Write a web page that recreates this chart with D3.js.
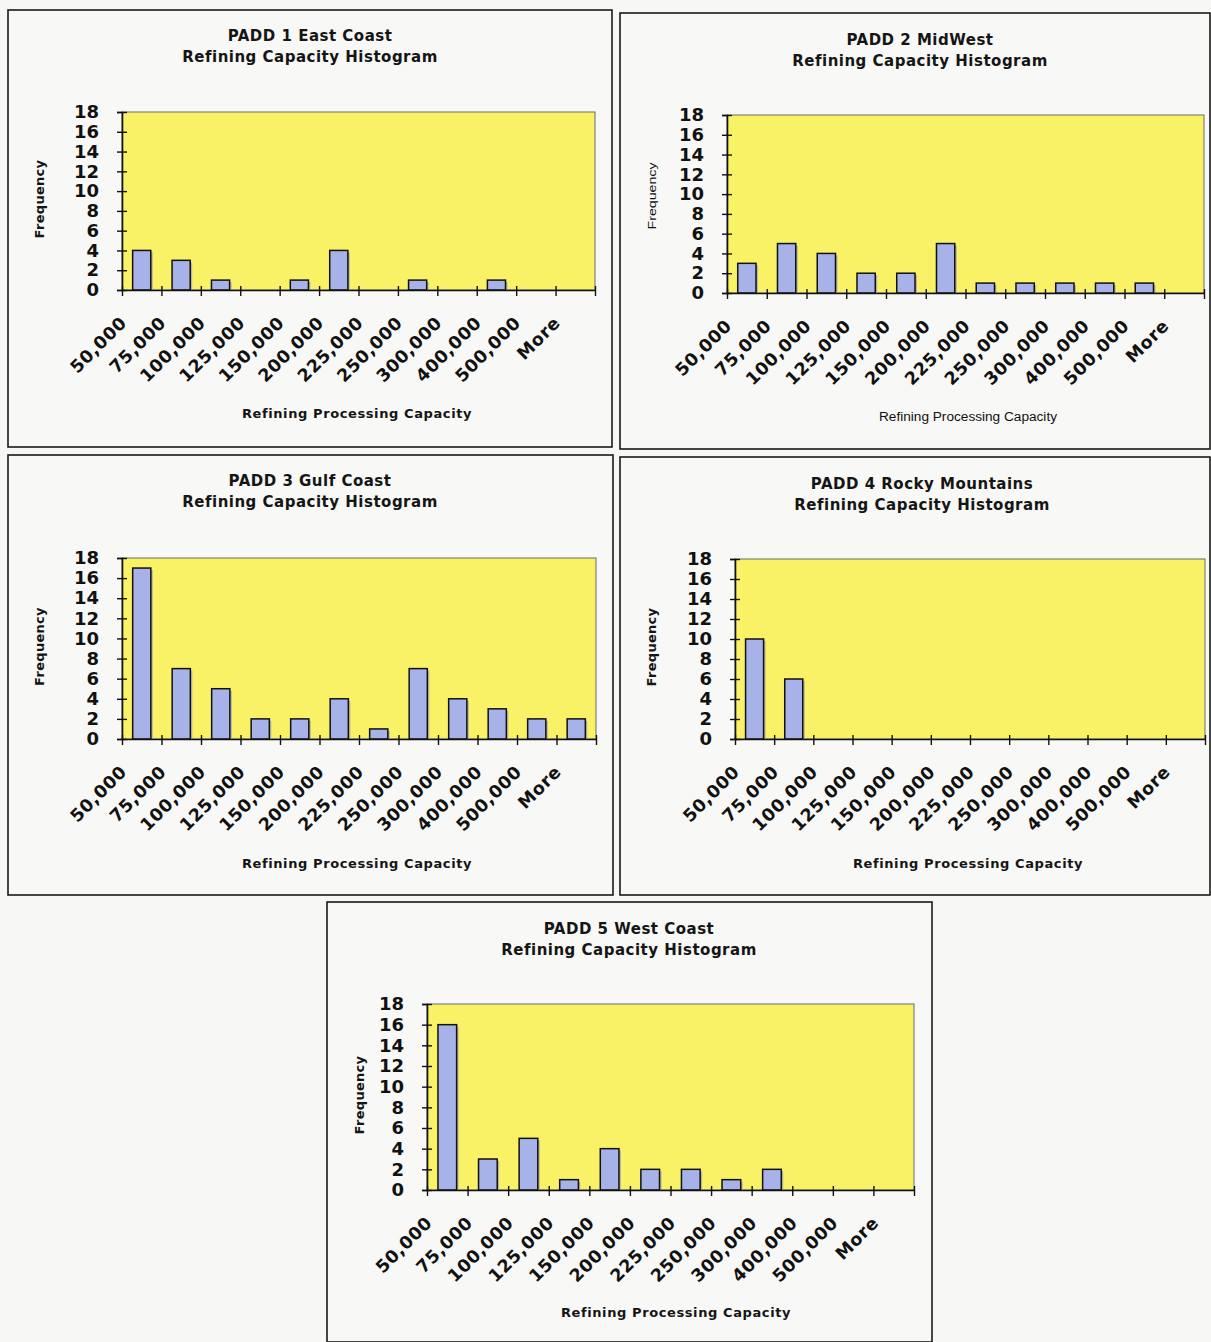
<!DOCTYPE html>
<html>
<head>
<meta charset="utf-8">
<script src="https://cdn.jsdelivr.net/npm/d3@7"></script>
<style>
  body { margin: 0; background: #f7f7f5; }
  svg { display: block; }
</style>
</head>
<body>
<svg id="chart" width="1211" height="1342"></svg>
<script>
// bins used by every histogram
var categories = ["50,000", "75,000", "100,000", "125,000", "150,000", "200,000",
                  "225,000", "250,000", "300,000", "400,000", "500,000", "More"];
var yTicks = [0, 2, 4, 6, 8, 10, 12, 14, 16, 18];

// frequency per bin
var padd1 = [4, 3, 1, 0, 1, 4, 0, 1, 0, 1, 0, 0];
var padd2 = [3, 5, 4, 2, 2, 5, 1, 1, 1, 1, 1, 0];
var padd3 = [17, 7, 5, 2, 2, 4, 1, 7, 4, 3, 2, 2];
var padd4 = [10, 6, 0, 0, 0, 0, 0, 0, 0, 0, 0, 0];
var padd5 = [16, 3, 5, 1, 4, 2, 2, 1, 2, 0, 0, 0];

var titles = ["PADD 1 East Coast", "PADD 2 MidWest", "PADD 3 Gulf Coast",
              "PADD 4 Rocky Mountains", "PADD 5 West Coast"];
var subTitle = "Refining Capacity Histogram";
var xTitle = "Refining Processing Capacity";
var yTitle = "Frequency";

// where each panel sits on the page (box, plot area, text spots)
var layout = [
  { data: padd1, box: [8, 10, 612, 447],   plot: [122, 112, 595, 290],  tx: 310, ty: 41,  xt: [357, 418],  fy: 44,  small: false },
  { data: padd2, box: [620, 13, 1210, 449], plot: [727, 115, 1204, 293], tx: 920, ty: 45,  xt: [968, 421],  fy: 656, small: true },
  { data: padd3, box: [8, 455, 613, 895],  plot: [122, 558, 596, 739],  tx: 310, ty: 486, xt: [357, 868],  fy: 44,  small: false },
  { data: padd4, box: [620, 457, 1210, 895], plot: [735, 559, 1205, 739], tx: 922, ty: 489, xt: [968, 868], fy: 656, small: false },
  { data: padd5, box: [327, 902, 932, 1342], plot: [427, 1004, 914, 1190], tx: 629, ty: 934, xt: [676, 1317], fy: 364, small: false }
];

var svg = d3.select("#chart");
var FONT = "'DejaVu Sans', Verdana, sans-serif";

layout.forEach(function(p, k) {
  var g = svg.append("g");
  var x0 = p.plot[0], y0 = p.plot[1], x1 = p.plot[2], y1 = p.plot[3];

  // panel frame
  g.append("rect")
    .attr("x", p.box[0]).attr("y", p.box[1])
    .attr("width", p.box[2] - p.box[0]).attr("height", p.box[3] - p.box[1])
    .attr("fill", "#f8f8f6").attr("stroke", "#1a1a1a").attr("stroke-width", 1.6);

  // titles
  var t = g.append("text").attr("x", p.tx).attr("y", p.ty)
    .attr("text-anchor", "middle").attr("font-family", FONT)
    .attr("font-weight", "bold").attr("font-size", 15)
    .attr("letter-spacing", 0.5).attr("fill", "#151515");
  t.append("tspan").attr("x", p.tx).text(titles[k]);
  t.append("tspan").attr("x", p.tx).attr("dy", 21).text(subTitle);

  var y = d3.scaleLinear().domain([0, 18]).range([y1, y0]);
  var xb = d3.scaleBand().domain(categories).range([x0, x1]).paddingInner(0.54).paddingOuter(0.27);
  var xe = d3.scaleLinear().domain([0, categories.length]).range([x0, x1]);

  // plot area
  g.append("rect").attr("x", x0).attr("y", y0)
    .attr("width", x1 - x0).attr("height", y1 - y0)
    .attr("fill", "#f9f266").attr("stroke", "#6a6a6a").attr("stroke-width", 1);

  // bars with the faint shadow on their right
  var bars = g.append("g");
  var rows = categories.map(function(c, i) { return { cat: c, v: p.data[i] }; })
    .filter(function(d) { return d.v > 0; });
  bars.selectAll("rect.sh").data(rows).join("rect").attr("class", "sh")
    .attr("x", function(d) { return xb(d.cat) + 2; })
    .attr("y", function(d) { return y(d.v) + 2; })
    .attr("width", xb.bandwidth())
    .attr("height", function(d) { return y1 - y(d.v) - 2; })
    .attr("fill", "#b9b7a0");
  bars.selectAll("rect.bar").data(rows).join("rect").attr("class", "bar")
    .attr("x", function(d) { return xb(d.cat); })
    .attr("y", function(d) { return y(d.v); })
    .attr("width", xb.bandwidth())
    .attr("height", function(d) { return y1 - y(d.v); })
    .attr("fill", "#a7b2e8").attr("stroke", "#111").attr("stroke-width", 1.5);

  // y axis, ticks crossing the line
  var ya = g.append("g").attr("transform", "translate(" + x0 + ",0)")
    .call(d3.axisLeft(y).tickValues(yTicks).tickSize(5).tickPadding(18));
  ya.select(".domain").attr("stroke", "#111").attr("stroke-width", 1.6);
  ya.selectAll(".tick line").attr("x1", -5).attr("x2", 5).attr("stroke", "#111").attr("stroke-width", 1.4);
  ya.selectAll(".tick text").attr("font-family", FONT).attr("font-weight", "bold")
    .attr("font-size", 18).attr("fill", "#111");

  // x axis, ticks at bin edges
  var xa = g.append("g").attr("transform", "translate(0," + y1 + ")")
    .call(d3.axisBottom(xe).tickValues(d3.range(categories.length + 1)).tickFormat("").tickSizeOuter(0));
  xa.select(".domain").attr("stroke", "#111").attr("stroke-width", 1.6);
  xa.selectAll(".tick line").attr("y1", -4).attr("y2", 6).attr("stroke", "#111").attr("stroke-width", 1.4);

  // rotated category labels
  g.append("g").selectAll("text").data(categories).join("text")
    .attr("transform", function(d) {
      return "translate(" + (xb(d) + xb.bandwidth() / 2 - 14) + "," + (y1 + 34) + ") rotate(-45)";
    })
    .attr("text-anchor", "end").attr("font-family", FONT).attr("font-weight", "bold")
    .attr("font-size", 17.5).attr("letter-spacing", 0.6).attr("fill", "#111")
    .text(function(d) { return d; });

  // axis titles
  var cy = (y0 + y1) / 2;
  if (p.small) {
    g.append("text").attr("x", p.xt[0]).attr("y", p.xt[1]).attr("text-anchor", "middle")
      .attr("font-family", "'Liberation Sans Narrow', 'Liberation Sans', sans-serif")
      .attr("font-size", 12).attr("textLength", 178).attr("lengthAdjust", "spacingAndGlyphs")
      .attr("fill", "#111").text(xTitle);
    g.append("text").attr("transform", "translate(" + p.fy + "," + (cy - 8) + ") rotate(-90)")
      .attr("text-anchor", "middle")
      .attr("font-family", "'Liberation Sans Narrow', 'Liberation Sans', sans-serif")
      .attr("font-size", 11).attr("textLength", 67).attr("lengthAdjust", "spacingAndGlyphs")
      .attr("fill", "#111").text(yTitle);
  } else {
    g.append("text").attr("x", p.xt[0]).attr("y", p.xt[1]).attr("text-anchor", "middle")
      .attr("font-family", FONT).attr("font-weight", "bold").attr("font-size", 13)
      .attr("letter-spacing", 0.6).attr("fill", "#151515").text(xTitle);
    g.append("text").attr("transform", "translate(" + p.fy + "," + (cy - 2) + ") rotate(-90)")
      .attr("text-anchor", "middle").attr("font-family", FONT).attr("font-weight", "bold")
      .attr("font-size", 13).attr("letter-spacing", 0.3).attr("fill", "#151515").text(yTitle);
  }
});
</script>
</body>
</html>
